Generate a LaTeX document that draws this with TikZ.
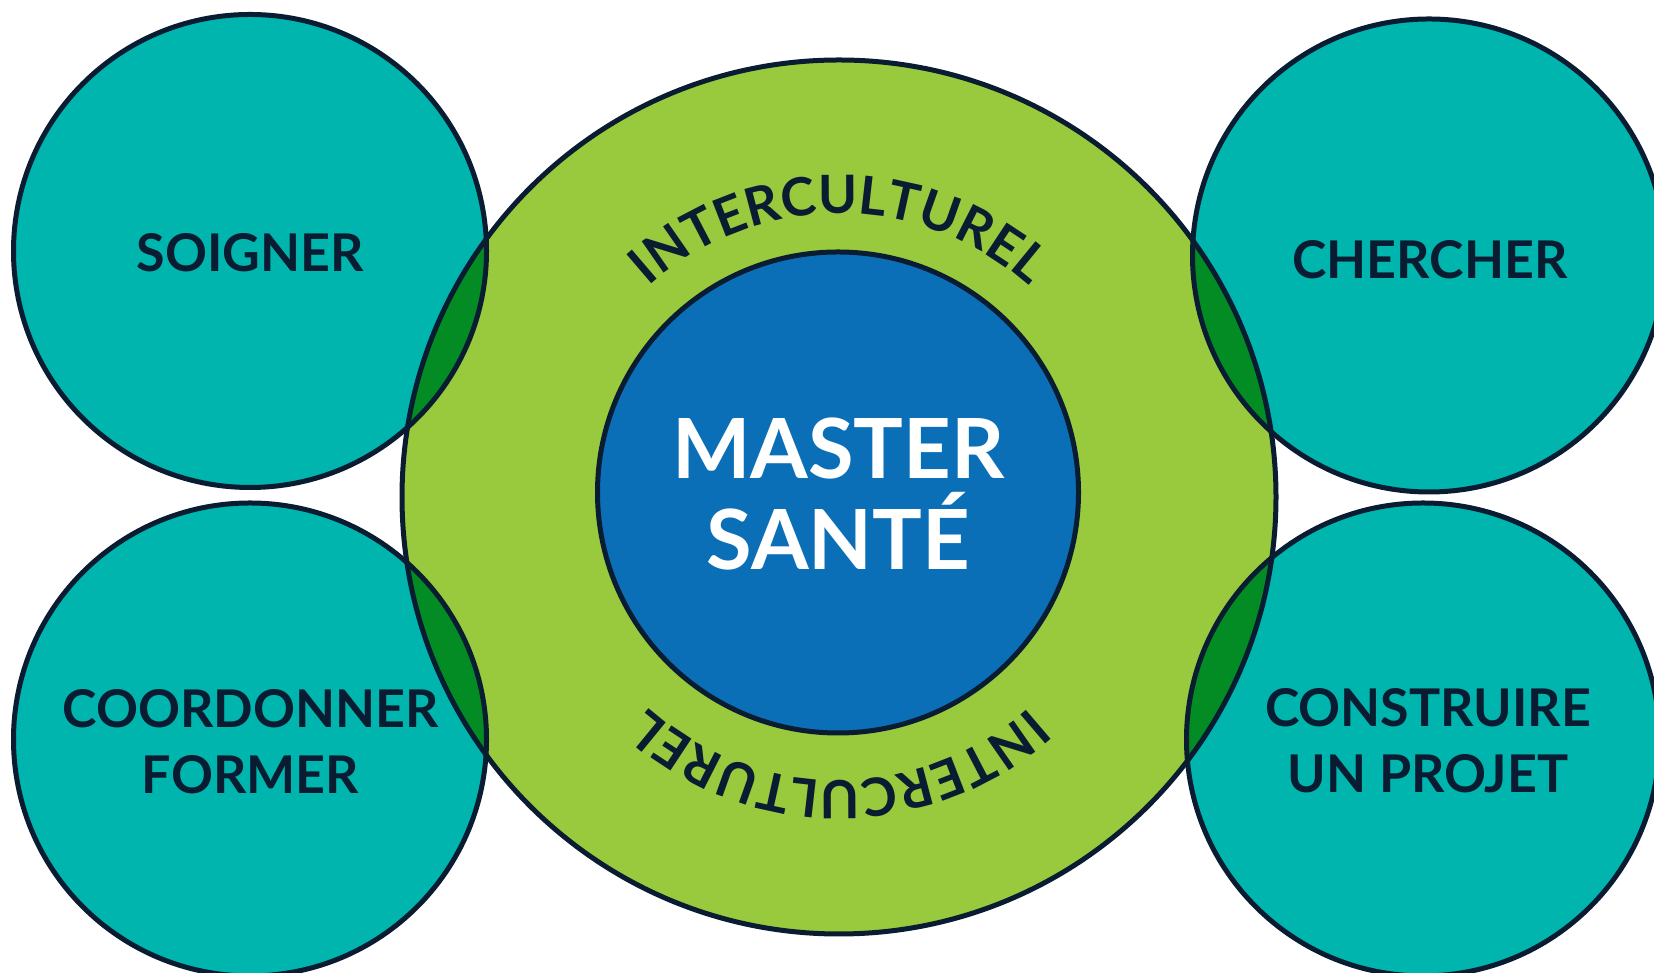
\documentclass[tikz,border=0pt]{standalone}
\usepackage{fontspec}
\setmainfont{Lato}
\usetikzlibrary{decorations.text}
\definecolor{tealc}{HTML}{00B5AD}
\definecolor{greenc}{HTML}{99C93D}
\definecolor{lensc}{HTML}{038C23}
\definecolor{bluec}{HTML}{0A6FB7}
\definecolor{navy}{HTML}{0A1C32}
\newcommand{\ringfont}{\color{navy}\fontsize{26.4}{32}\selectfont\bfseries}

\begin{document}
\begin{tikzpicture}[x=0.5pt,y=0.5pt]
  \tikzstyle{ring}=[line width=2.5pt,draw=navy]
  \tikzstyle{word}=[text=navy,font=\fontsize{26}{33}\selectfont\bfseries,align=center]
  \tikzstyle{core}=[text=white,font=\fontsize{41.5}{45.5}\selectfont\bfseries,align=center]
  \clip (0,0) rectangle (1654,973);

  \coordinate (hub) at (839,476);
  \coordinate (master) at (838,480.5);
  \foreach \name/\x/\y in {soigner/250/722, chercher/1429/717.5,
                           former/250/233.5, projet/1423/233.5}
    \coordinate (\name) at (\x,\y);

  % fills
  \foreach \name in {soigner,chercher,former,projet}
    { \fill[tealc] (\name) circle[radius=236.5]; }
  \fill[greenc] (hub) circle[radius=437];
  \begin{scope}
    \clip (hub) circle[radius=437];
    \foreach \name in {soigner,chercher,former,projet}
      { \fill[lensc] (\name) circle[radius=236.5]; }
  \end{scope}
  \fill[bluec] (master) circle[radius=240.5];

  % outlines
  \foreach \name in {soigner,chercher,former,projet}
    { \draw[ring] (\name) circle[radius=236.5]; }
  \draw[ring] (hub) circle[radius=437];
  \draw[ring] (master) circle[radius=240.5];

  % labels
  \node[word] (soigner-text) at (250.5,720.5) {SOIGNER};
  \node[word] (chercher-text) at (1430,713.5) {CHERCHER};
  \node[word] (former-text) at (250.5,231) {COORDONNER\\FORMER};
  \node[word] (projet-text) at (1428,232) {CONSTRUIRE\\UN PROJET};
  \node[core] (master-text) at (838.5,478.5) {MASTER\\SANTÉ};

  \path[shift={(hub)},decorate,decoration={text along path,text align=center,
        text={|\ringfont|INTERCULTUREL}}]
    (140:283.5) arc[start angle=140,end angle=40,radius=283.5];
  \path[shift={(hub)},decorate,decoration={text along path,text align=center,
        text={|\ringfont|INTERCULTUREL}}]
    (-40:283.5) arc[start angle=-40,end angle=-140,radius=283.5];
\end{tikzpicture}
\end{document}
